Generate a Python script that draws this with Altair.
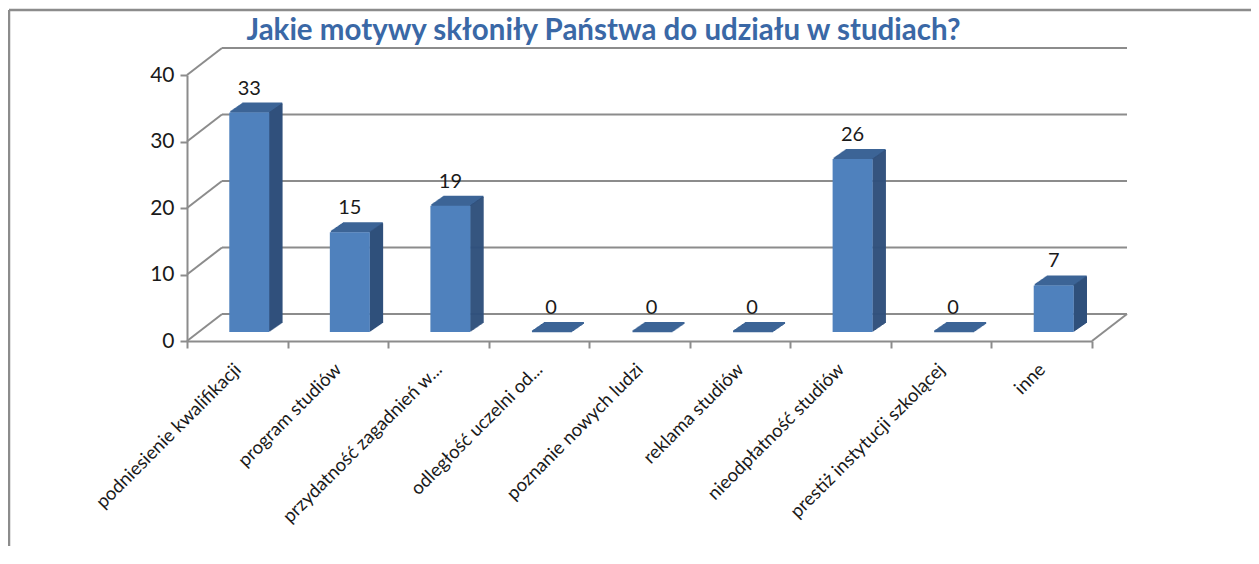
import altair as alt
import pandas as pd

# ---- data ----
categories = [
    "podniesienie kwalifikacji",
    "program studiów",
    "przydatność zagadnień w...",
    "odległość uczelni od...",
    "poznanie nowych ludzi",
    "reklama studiów",
    "nieodpłatność studiów",
    "prestiż instytucji szkolącej",
    "inne",
]
values = [33, 15, 19, 0, 0, 0, 26, 0, 7]
y_ticks = [0, 10, 20, 30, 40]
title_text = "Jakie motywy skłoniły Państwa do udziału w studiach?"

# ---- styling ----
W, H = 905, 266
DX, DY = 35, -27          # depth of the 3D back wall
BX, BY = 12, -9           # front face offset of bars
DEPTH = 13                # bar side depth (px)
RISE = 9.0                # bar top rise (px)
BARW = 40
FRONT = "#4F81BD"
TOP = "#3C6496"
SIDE = "#30507C"
GRID = "#8C8C8C"
TXT = "#1a1a1a"
FONT = "Lato"

df = pd.DataFrame({"cat": categories, "value": values})
ticks_df = pd.DataFrame({"value": y_ticks})
floor_df = pd.DataFrame({"value": [0]})

x_enc = alt.X(
    "cat:N",
    sort=categories,
    title=None,
    scale=alt.Scale(paddingInner=0, paddingOuter=0),
    axis=alt.Axis(
        tickBand="extent",
        grid=False,
        domainColor=GRID,
        domainWidth=2,
        tickColor=GRID,
        tickWidth=2,
        tickSize=7,
        labelAngle=315,
        labelAlign="right",
        labelBaseline="middle",
        labelFont=FONT,
        labelFontSize=18.5,
        labelColor=TXT,
        labelPadding=18,
        labelLimit=0,
    ),
)
y_scale = alt.Scale(domain=[0, 40], nice=False, zero=True)
y_enc = alt.Y(
    "value:Q",
    title=None,
    scale=y_scale,
    axis=alt.Axis(
        values=y_ticks,
        grid=False,
        domainColor=GRID,
        domainWidth=2,
        tickColor=GRID,
        tickWidth=2,
        tickSize=7,
        labelFont=FONT,
        labelFontSize=21,
        labelColor=TXT,
        labelPadding=6,
    ),
)

layers = []

# back-wall gridlines
layers.append(
    alt.Chart(ticks_df).mark_rule(color=GRID, strokeWidth=2, yOffset=DY).encode(
        x=alt.value(DX), x2=alt.value(W + DX), y=alt.Y("value:Q", title=None, scale=y_scale)
    )
)
# left side-wall diagonals
layers.append(
    alt.Chart(ticks_df).mark_rule(color=GRID, strokeWidth=2, y2Offset=DY).encode(
        x=alt.value(0), x2=alt.value(DX),
        y=alt.Y("value:Q", title=None, scale=y_scale), y2="value:Q",
    )
)
# right floor diagonal
layers.append(
    alt.Chart(floor_df).mark_rule(color=GRID, strokeWidth=2, y2Offset=DY).encode(
        x=alt.value(W), x2=alt.value(W + DX),
        y=alt.Y("value:Q", title=None, scale=y_scale), y2="value:Q",
    )
)

# bar top faces (stacked thin strips)
for k in range(1, DEPTH + 1):
    r = RISE * k / DEPTH
    layers.append(
        alt.Chart(df).mark_bar(
            size=BARW, color=TOP,
            xOffset=BX + k, x2Offset=BX + k,
            yOffset=BY - r - 1, y2Offset=BY - r + 1,
        ).encode(x=x_enc, y=alt.Y("value:Q", title=None, scale=y_scale), y2="value:Q")
    )
# bar side faces (narrow strips)
for k in range(1, DEPTH + 1):
    r = RISE * k / DEPTH
    layers.append(
        alt.Chart(df).mark_bar(
            size=1.6, color=SIDE,
            xOffset=BX + BARW / 2 + k - 0.5, x2Offset=BX + BARW / 2 + k - 0.5,
            yOffset=BY - r, y2Offset=BY - r,
        ).encode(x=x_enc, y=alt.Y("value:Q", title=None, scale=y_scale))
    )
# bar front faces
layers.append(
    alt.Chart(df).mark_bar(
        size=BARW, color=FRONT,
        xOffset=BX, x2Offset=BX, yOffset=BY, y2Offset=BY,
    ).encode(x=x_enc, y=y_enc)
)
# value labels
layers.append(
    alt.Chart(df).mark_text(
        xOffset=BX, yOffset=-27, baseline="alphabetic", align="center",
        font=FONT, fontSize=20, color=TXT,
    ).encode(x=x_enc, y=alt.Y("value:Q", title=None, scale=y_scale), text="value:Q")
)
# outer chart-area border (top and left edges)
border_df = pd.DataFrame({"edge": ["top"]})
layers.append(
    alt.Chart(border_df).mark_rule(color=GRID, strokeWidth=2.5).encode(
        x=alt.value(-178), x2=alt.value(W + 170), y=alt.value(-65)
    )
)
layers.append(
    alt.Chart(border_df).mark_rule(color=GRID, strokeWidth=2.5).encode(
        x=alt.value(-178), y=alt.value(-65), y2=alt.value(H + 300)
    )
)

chart = (
    alt.layer(*layers)
    .properties(
        width=W,
        height=H,
        view=alt.ViewBackground(stroke="transparent", strokeWidth=0, strokeOpacity=0),
        padding={"left": 179, "top": 67, "right": 159, "bottom": 205},
        autosize=alt.AutoSizeParams(type="none"),
        title=alt.TitleParams(
            title_text,
            font=FONT,
            fontSize=29.5,
            fontWeight="bold",
            color="#3A68A6",
            anchor="middle",
            frame="group",
            dx=-36,
            dy=81,
            offset=20,
            baseline="alphabetic",
        ),
    )
    .configure_view(stroke="transparent", strokeWidth=0)
    .configure_axis(grid=False)
    .configure(background="white")
)

chart.save("out.html", embed_options={"renderer": "svg", "actions": False})
